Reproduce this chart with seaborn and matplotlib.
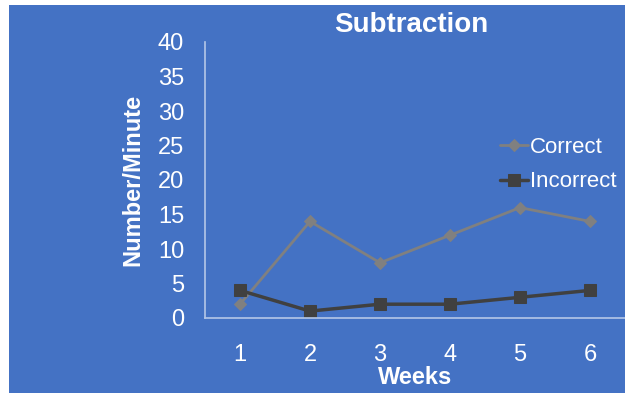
import numpy as np
import pandas as pd
import seaborn as sns
import matplotlib.pyplot as plt
from matplotlib.patches import Rectangle
from matplotlib.ticker import MultipleLocator, FixedLocator

weeks = [1, 2, 3, 4, 5, 6]
correct = [2, 14, 8, 12, 16, 14]
incorrect = [4, 1, 2, 2, 3, 4]

blue = '#4472C4'
axcol = '#B4C7E7'

sns.set_style("white")
plt.rcParams['font.family'] = ['Liberation Sans', 'DejaVu Sans']

fig = plt.figure(figsize=(6.25, 3.93), dpi=100, facecolor='white')
fig.patches.append(Rectangle((9/625, 0), 1, 1 - 5/393, transform=fig.transFigure,
                             facecolor=blue, edgecolor='none', zorder=-1))
ax = fig.add_axes([205/625, 1 - 318/393, 420/625, 276/393])
ax.set_facecolor('none')

df = pd.DataFrame({'week': weeks, 'Correct': correct, 'Incorrect': incorrect})
sns.lineplot(data=df, x='week', y='Correct', ax=ax, color='#808080', lw=2,
             marker='D', markersize=6, markeredgecolor='#808080', label='Correct')
sns.lineplot(data=df, x='week', y='Incorrect', ax=ax, color='#404040', lw=2.5,
             marker='s', markersize=8, markeredgecolor='#404040', label='Incorrect')

ax.set_xlim(0.5, 6.5)
ax.set_ylim(0, 40)
ax.yaxis.set_major_locator(MultipleLocator(5))
ax.xaxis.set_major_locator(FixedLocator(weeks))
ax.xaxis.set_minor_locator(FixedLocator([w - 0.5 for w in weeks] + [6.5]))
ax.tick_params(axis='x', which='major', length=0, pad=19, labelsize=17, labelcolor='white')
ax.tick_params(axis='x', which='minor', length=5, width=1, color=axcol, direction='out')
ax.tick_params(axis='y', length=5, width=1, color=axcol, direction='out', labelsize=17,
               labelcolor='white', pad=10)
for s in ['top', 'right']:
    ax.spines[s].set_visible(False)
for s in ['left', 'bottom']:
    ax.spines[s].set_color(axcol)
    ax.spines[s].set_linewidth(1.2)

ax.set_xlabel('Weeks', color='white', fontsize=17, fontweight='bold', labelpad=0)
ax.set_ylabel('Number/Minute', color='white', fontsize=17, fontweight='bold', labelpad=10)
fig.text(411/625, 1 - 25/393, 'Subtraction', color='white', fontsize=20,
         fontweight='bold', ha='center', va='center')

leg = ax.legend(loc='upper left', bbox_to_anchor=((500-205)/420, (318-137)/276), frameon=False,
                fontsize=16, handlelength=1.25, handletextpad=0.1, labelspacing=0.6,
                borderaxespad=0, borderpad=0)
for t in leg.get_texts():
    t.set_color('white')

fig.savefig('out.png', dpi=100, facecolor='white')
